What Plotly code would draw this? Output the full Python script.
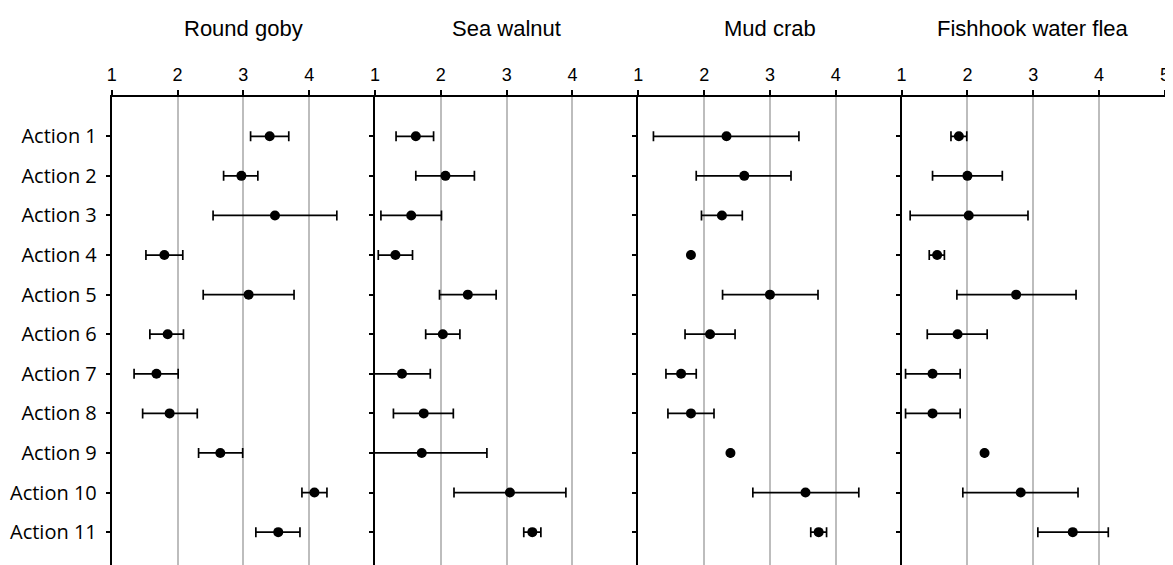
import plotly.graph_objects as go

species = ["Round goby", "Sea walnut", "Mud crab", "Fishhook water flea"]
actions = ["Action 1", "Action 2", "Action 3", "Action 4", "Action 5", "Action 6",
           "Action 7", "Action 8", "Action 9", "Action 10", "Action 11"]
x_ticks = [1, 2, 3, 4, 5]

goby_mean = [3.40, 2.97, 3.48, 1.80, 3.08, 1.85, 1.68, 1.88, 2.65, 4.08, 3.53]
goby_low = [3.11, 2.70, 2.54, 1.52, 2.39, 1.58, 1.34, 1.47, 2.32, 3.89, 3.19]
goby_high = [3.69, 3.22, 4.42, 2.08, 3.77, 2.09, 2.01, 2.30, 2.99, 4.27, 3.86]

walnut_mean = [1.62, 2.07, 1.55, 1.31, 2.41, 2.03, 1.41, 1.74, 1.71, 3.05, 3.39]
walnut_low = [1.32, 1.62, 1.09, 1.05, 1.98, 1.77, 0.90, 1.28, 0.90, 2.20, 3.26]
walnut_high = [1.89, 2.51, 2.01, 1.57, 2.84, 2.29, 1.84, 2.19, 2.70, 3.90, 3.52]

crab_mean = [2.34, 2.61, 2.27, 1.80, 3.00, 2.09, 1.65, 1.80, 2.40, 3.54, 3.74]
crab_low = [1.23, 1.88, 1.96, None, 2.28, 1.71, 1.42, 1.45, None, 2.74, 3.62]
crab_high = [3.44, 3.32, 2.58, None, 3.73, 2.47, 1.88, 2.15, None, 4.35, 3.86]

flea_mean = [1.87, 2.00, 2.02, 1.54, 2.74, 1.85, 1.47, 1.47, 2.26, 2.81, 3.60]
flea_low = [1.75, 1.47, 1.13, 1.42, 1.84, 1.39, 1.06, 1.06, None, 1.93, 3.07]
flea_high = [1.99, 2.53, 2.92, 1.65, 3.65, 2.30, 1.89, 1.89, None, 3.68, 4.14]

series = [
    (goby_mean, goby_low, goby_high),
    (walnut_mean, walnut_low, walnut_high),
    (crab_mean, crab_low, crab_high),
    (flea_mean, flea_low, flea_high),
]

# page has an 8px body margin; figure sized/positioned to compensate
OFF = 8
W, H = 1173 - OFF, 565 - OFF
left_px = 111.7 - OFF
panel_px = 263.3
top_px = 96.7 - OFF
y_top = 1 - top_px / H

ypos = list(range(1, len(actions) + 1))

fig = go.Figure()
layout = dict(
    width=W, height=H,
    margin=dict(l=0, r=0, t=0, b=0, autoexpand=False),
    paper_bgcolor="white", plot_bgcolor="white",
    showlegend=False,
    font=dict(family="Liberation Sans, Arial, sans-serif", color="black"),
)

annotations = []
for i, (name, (m, lo, hi)) in enumerate(zip(species, series)):
    k = "" if i == 0 else str(i + 1)
    plus = [None if h is None else h - v for v, h in zip(m, hi)]
    minus = [None if l is None else v - l for v, l in zip(m, lo)]
    fig.add_trace(go.Scatter(
        x=m, y=ypos, mode="markers",
        marker=dict(color="black", size=10),
        error_x=dict(type="data", array=plus, arrayminus=minus, symmetric=False,
                     color="black", thickness=1.7, width=5),
        xaxis="x" + k, yaxis="y" + k, cliponaxis=True,
    ))
    x0 = (left_px + i * panel_px) / W
    x1 = (left_px + (i + 1) * panel_px) / W
    tv = x_ticks if i == len(species) - 1 else x_ticks[:-1]
    layout["xaxis" + k] = dict(
        domain=[x0, x1], range=[1, 5], side="top", anchor="y" + k,
        tickvals=tv, ticktext=[str(t) for t in tv],
        ticks="outside", ticklen=5, tickwidth=1.5, tickcolor="black",
        ticklabelstandoff=2,
        showline=True, linecolor="black", linewidth=1.8,
        showgrid=True, gridcolor="#bdbdbd", gridwidth=1.5,
        zeroline=False, fixedrange=True, automargin=False,
        tickfont=dict(family="Liberation Sans, Arial, sans-serif", size=18, color="black"),
    )
    layout["yaxis" + k] = dict(
        domain=[0, y_top], range=[11.83, 0], anchor="x" + k,
        tickvals=ypos, ticktext=actions, showticklabels=(i == 0),
        ticks="outside", ticklen=4, tickwidth=1.5, tickcolor="black",
        ticklabelstandoff=5,
        showline=True, linecolor="black", linewidth=1.8,
        mirror=(i == len(species) - 1),
        showgrid=False, zeroline=False, fixedrange=True, automargin=False,
        tickfont=dict(family="Open Sans, sans-serif", size=20, color="black"),
    )
    annotations.append(dict(
        text=name, x=(x0 + x1) / 2, y=1 - (28 - OFF) / H, xref="paper", yref="paper",
        xanchor="center", yanchor="middle", showarrow=False,
        font=dict(family="Liberation Sans, Arial, sans-serif", size=22, color="black"),
    ))

layout["annotations"] = annotations
fig.update_layout(**layout)
fig.write_html("out.html")
